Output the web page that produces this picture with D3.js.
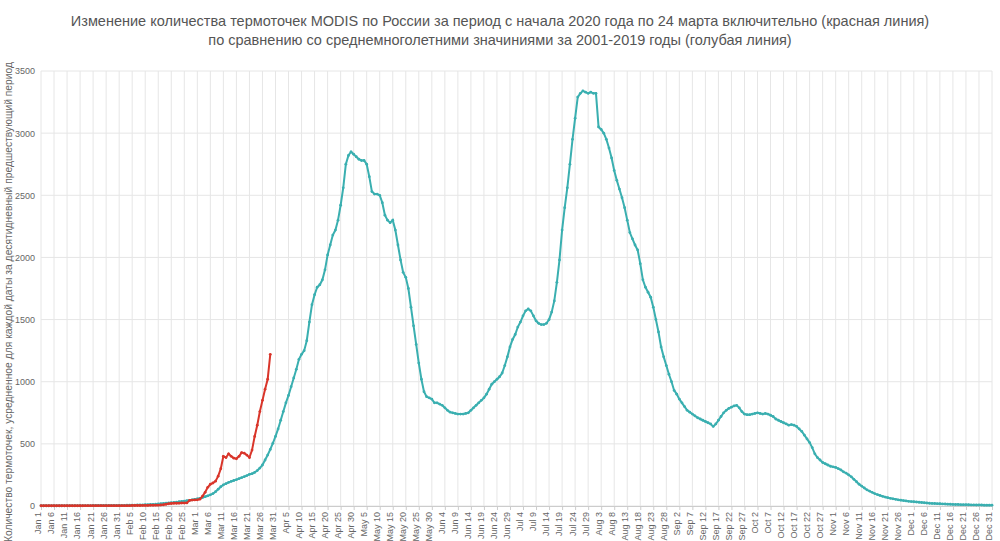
<!DOCTYPE html>
<html>
<head>
<meta charset="utf-8">
<script src="https://cdnjs.cloudflare.com/ajax/libs/d3/7.8.5/d3.min.js"></script>
<style>
  body { margin: 0; background: #fff; font-family: "Liberation Sans", Arial, sans-serif; }
  .grid line { stroke: #e6e6e6; }
  .axis text { fill: #666; font-size: 9px; }
  .axis path, .axis line { stroke: #ccc; }
</style>
</head>
<body>
<svg id="chart"></svg>
<script>
// average 2001-2019, by month
const avgJan = [2,2,2,2,2,2,2,2,2,2, 3,3,3,3,3,3,3,3,3,3, 4,4,4,4,4,4,4,5,5,5,5];
const avgFeb = [5,5,6,6,7,7,8,8,9,10, 11,12,13,14,16,18,20,22,24,26, 28,31,34,37,40,43,46,50,54];
const avgMar = [58,62,68,75,82,90,100,115,135,155, 170,180,190,198,205,212,220,228,236,245, 255,260,270,285,305,330,370,410,455,505,560];
const avgApr = [620,690,760,830,890,960,1030,1100,1180,1220, 1250,1330,1480,1620,1700,1760,1780,1820,1900,2020, 2100,2180,2220,2300,2420,2560,2750,2820,2850,2830];
const avgMay = [2810,2790,2780,2780,2750,2650,2530,2510,2510,2500, 2440,2340,2300,2280,2300,2220,2100,1980,1880,1840, 1750,1600,1450,1300,1150,1020,920,880,870,860,830];
const avgJun = [830,820,810,790,770,755,750,745,740,740, 740,745,750,770,790,810,830,850,870,900, 940,980,1000,1020,1040,1070,1130,1200,1280,1340];
const avgJul = [1380,1440,1480,1530,1570,1585,1570,1530,1490,1470, 1460,1460,1470,1500,1560,1650,1800,1980,2220,2400, 2560,2750,2950,3120,3290,3320,3340,3330,3320,3330,3320];
const avgAug = [3320,3050,3030,3000,2950,2880,2800,2700,2620,2550, 2480,2400,2300,2200,2150,2100,2060,1950,1820,1760, 1720,1680,1600,1500,1400,1280,1200,1130,1060,1000,930];
const avgSep = [900,860,830,800,770,755,740,725,710,700, 690,680,670,660,640,660,690,720,750,770, 785,795,805,810,790,760,740,735,735,740];
const avgOct = [745,750,745,740,745,740,730,720,700,690, 680,670,660,650,655,650,640,620,600,570, 540,510,470,420,390,370,350,340,330,320,315];
const avgNov = [310,300,290,275,265,250,235,215,195,175, 160,145,130,120,110,100,92,85,78,72, 67,62,58,54,50,47,44,41,38,36];
const avgDec = [34,32,30,28,26,24,22,21,20,19, 18,17,16,15,14,13,12,12,11,11, 10,10,9,9,8,8,8,7,7,7,7];

// 2020
const curJan = [2,2,2,2,2,2,2,2,2,2, 2,2,2,2,2,2,2,3,3,3, 3,3,3,3,3,3,3,3,3,3,3];
const curFeb = [3,3,3,3,4,4,4,4,5,5, 5,6,6,7,7,8,10,14,18,20, 22,22,23,24,24,25,45,48,49];
const curMar = [50,55,80,110,150,175,185,200,240,300, 400,390,420,400,385,380,400,430,425,410, 390,450,560,650,760,850,940,1020,1220];

const title1 = "Изменение количества термоточек MODIS по России за период с начала 2020 года по 24 марта включительно (красная линия)";
const title2 = "по сравнению со среднемноголетними значиниями за 2001-2019 годы (голубая линия)";
const yTitle = "Количество термоточек, усредненное для каждой даты за десятидневный предшествующий период";
const yTicks = [0, 500, 1000, 1500, 2000, 2500, 3000, 3500];

const avg = [].concat(avgJan, avgFeb, avgMar, avgApr, avgMay, avgJun, avgJul, avgAug, avgSep, avgOct, avgNov, avgDec);
const cur = [].concat(curJan, curFeb, curMar);
const start = new Date(2020, 0, 1);
const day = i => d3.timeDay.offset(start, i);

const width = 1000, height = 541;
const margin = { top: 71, right: 8, bottom: 35, left: 41 };
const svg = d3.select('#chart').attr('width', width).attr('height', height);

const x = d3.scaleTime().domain([start, day(365)]).range([margin.left, width - margin.right]);
const y = d3.scaleLinear().domain([0, 3500]).range([height - margin.bottom, margin.top]);
const tickDays = d3.range(0, 366, 5).map(day);

svg.append('g').attr('class', 'grid')
  .selectAll('line').data(tickDays).join('line')
  .attr('x1', d => x(d)).attr('x2', d => x(d))
  .attr('y1', y(3500)).attr('y2', y(0));
svg.append('g').attr('class', 'grid')
  .selectAll('line').data(yTicks).join('line')
  .attr('x1', margin.left).attr('x2', width - margin.right)
  .attr('y1', d => y(d)).attr('y2', d => y(d));

svg.append('g').attr('class', 'axis')
  .attr('transform', `translate(0,${y(0)})`)
  .call(d3.axisBottom(x).tickValues(tickDays).tickFormat(d3.timeFormat('%b %-d')).tickSize(4))
  .selectAll('text')
    .attr('transform', 'rotate(-90)')
    .attr('text-anchor', 'end')
    .attr('x', -6).attr('y', -3).attr('dy', '0.32em');

const yAxis = svg.append('g').attr('class', 'axis')
  .attr('transform', `translate(${margin.left},0)`)
  .call(d3.axisLeft(y).tickValues(yTicks).tickFormat(d3.format('d')).tickSize(0).tickPadding(6));
yAxis.select('.domain').remove();

const line = d3.line().x((d, i) => x(day(i))).y(d => y(d));
const series = [
  { data: avg, color: '#3aafb0' },
  { data: cur, color: '#d9352a' }
];
series.forEach(s => {
  svg.append('path').datum(s.data)
    .attr('fill', 'none').attr('stroke', s.color).attr('stroke-width', 2)
    .attr('d', line);
  svg.append('g').selectAll('circle').data(s.data).join('circle')
    .attr('cx', (d, i) => x(day(i))).attr('cy', d => y(d))
    .attr('r', 1.4).attr('fill', s.color);
});

svg.append('text').attr('x', 500).attr('y', 26).attr('text-anchor', 'middle')
  .attr('fill', '#555').attr('font-size', 14.5).text(title1);
svg.append('text').attr('x', 500).attr('y', 45).attr('text-anchor', 'middle')
  .attr('fill', '#555').attr('font-size', 14.5).text(title2);

svg.append('text')
  .attr('transform', `translate(12,302) rotate(-90)`)
  .attr('text-anchor', 'middle').attr('fill', '#666').attr('font-size', 10.3)
  .text(yTitle);
</script>
</body>
</html>
